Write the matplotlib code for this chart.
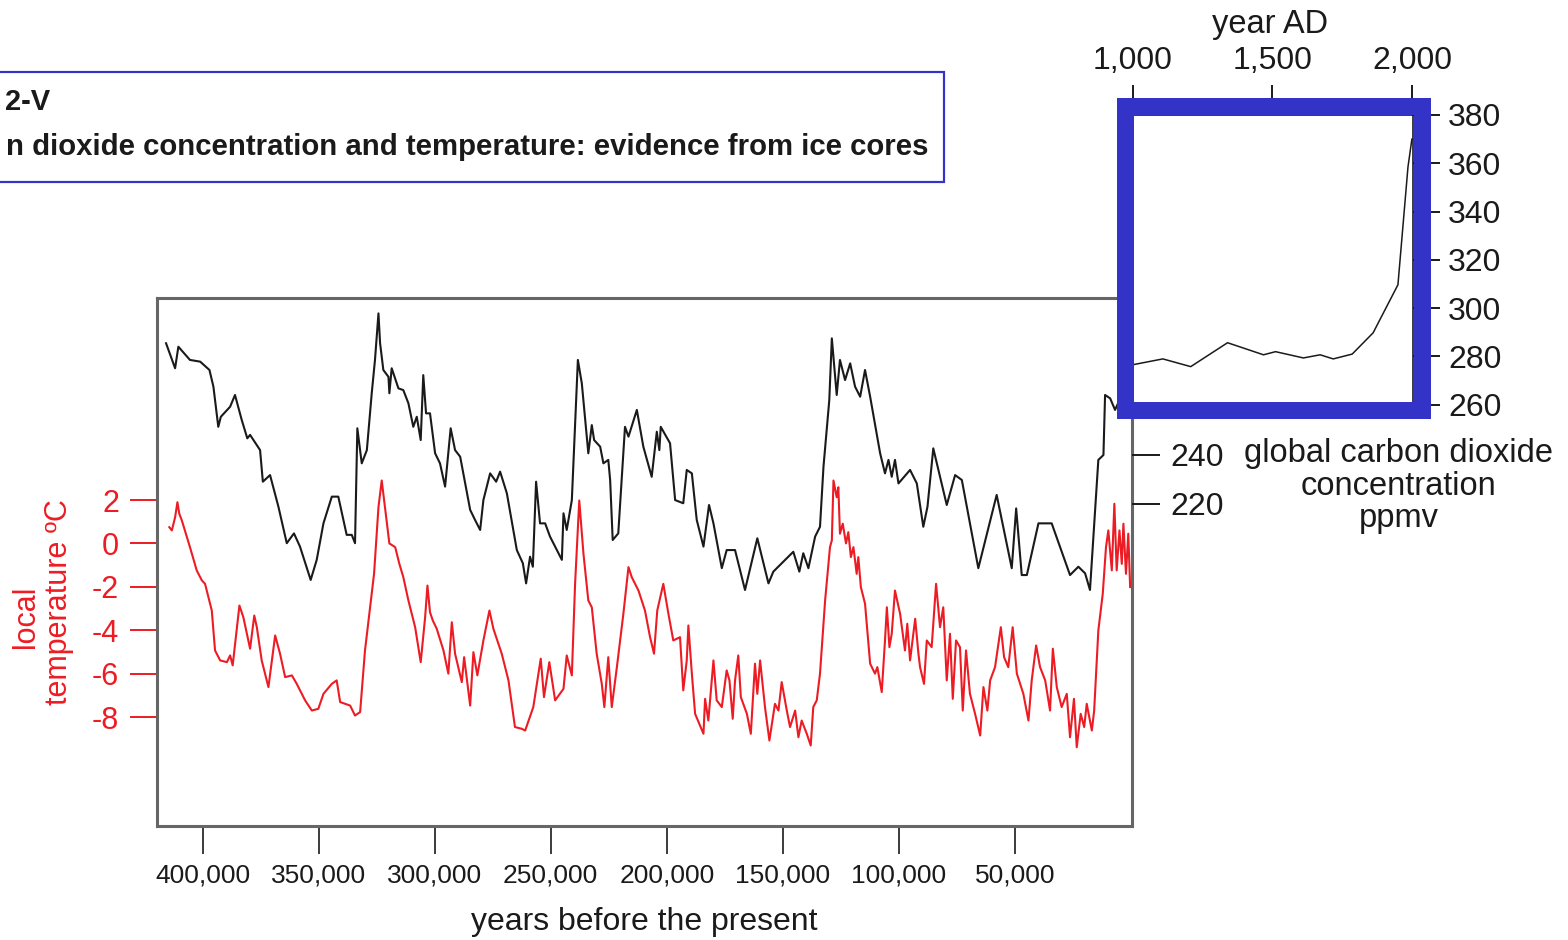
import matplotlib
matplotlib.use('Agg')
import matplotlib.pyplot as plt
from matplotlib.patches import Rectangle

plt.rcParams['font.family'] = ['Liberation Sans', 'DejaVu Sans']

# ---------------- data ----------------
co2_age = [415700, 411800, 410400, 405400, 401000, 397000, 395300, 393200, 392100, 388100,
           386000, 383100, 380700, 379500, 375200, 374000, 370900, 367300, 363700, 360600,
           358000, 353400, 350800, 347900, 344300, 341500, 337900, 335700, 334300, 333300,
           331400, 329200, 327100, 325700, 324200, 323500, 322100, 319900, 319500, 318500,
           315600, 313500, 311300, 309200, 307700, 306000, 304900, 303700, 302000, 299800,
           297700, 295500, 293100, 291200, 289000, 284700, 282600, 280400, 279000, 276100,
           273500, 271800, 268900, 264600, 262000, 260600, 258900, 257700, 256300, 254600,
           252400, 250300, 245200, 244500, 243100, 240900, 238300, 236600, 233800, 232300,
           231300, 228700, 227300, 225200, 224400, 223300, 220900, 218000, 216500, 212900,
           210100, 206500, 204300, 203200, 202600, 198600, 196400, 192900, 191400, 189200,
           187100, 184200, 181800, 179900, 176300, 174200, 170600, 166300, 161000, 156200,
           154100, 145500, 142900, 141200, 139000, 136100, 134000, 132500, 130000, 128900,
           126800, 125400, 123200, 121000, 118900, 116700, 114600, 112400, 108100, 106000,
           104500, 103100, 101700, 100200, 95200, 92300, 89500, 87700, 85200, 79400,
           75800, 72900, 65800, 57900, 51400, 49500, 47100, 44900, 39900, 34200,
           26300, 22700, 19800, 17700, 14100, 11900, 11200, 9000, 6900, 5000, 1300]
co2_ppmv = [285.4, 275.2, 284.0, 278.6, 277.9, 274.5, 267.7, 251.3, 255.4, 259.5,
            264.3, 254.1, 246.6, 248.0, 241.8, 228.9, 231.6, 218.7, 203.8, 207.8,
            202.4, 188.8, 197.0, 211.9, 222.8, 222.8, 207.2, 207.2, 203.8, 250.7,
            236.4, 241.8, 265.0, 278.6, 297.6, 285.4, 274.5, 271.7, 265.0, 275.2,
            267.0, 266.3, 260.9, 251.3, 255.4, 245.9, 272.4, 256.8, 256.8, 240.5,
            236.4, 226.9, 250.7, 241.8, 239.1, 217.4, 213.3, 209.2, 221.4, 232.3,
            228.9, 233.0, 224.2, 201.0, 195.6, 187.4, 198.3, 194.2, 228.9, 211.9,
            211.9, 206.5, 197.0, 216.0, 209.2, 221.4, 278.6, 269.0, 240.5, 252.0,
            245.9, 243.2, 236.4, 237.8, 229.6, 205.1, 207.8, 251.3, 247.3, 258.2,
            243.2, 230.9, 249.3, 241.8, 251.3, 244.6, 221.4, 220.1, 233.7, 232.3,
            213.3, 202.4, 219.4, 211.9, 193.6, 201.0, 201.0, 184.7, 205.8, 187.4,
            192.2, 200.3, 192.2, 199.7, 193.6, 206.5, 210.5, 235.0, 262.2, 287.4,
            264.3, 278.6, 270.4, 277.2, 267.7, 263.6, 274.5, 263.6, 240.5, 232.3,
            237.8, 230.9, 237.8, 228.2, 233.7, 228.2, 210.5, 218.7, 242.5, 219.4,
            231.6, 229.6, 193.6, 223.5, 193.6, 218.0, 190.8, 190.8, 211.9, 211.9,
            190.8, 194.2, 191.5, 184.7, 237.8, 239.8, 264.3, 262.9, 258.2, 262.2, 264.3]

temp_age = [414300, 413200, 411800, 410800, 410000, 408900, 405400, 402500, 400300, 398900,
            396000, 394600, 392400, 389500, 388100, 387000, 384100, 382400, 379500, 377700,
            376600, 374500, 371600, 368700, 366600, 364400, 361500, 359400, 355800, 352900,
            350100, 347900, 344300, 342200, 340700, 336400, 334300, 332100, 330000, 327800,
            326100, 324200, 322800, 321400, 319500, 317000, 315200, 313500, 311300, 308400,
            306000, 304100, 303100, 302000, 300800, 299100, 296200, 294100, 292600, 291200,
            288300, 287300, 284700, 283300, 281600, 279000, 276400, 274700, 271100, 268200,
            265400, 262500, 261000, 257500, 254300, 252900, 250600, 248100, 244500, 243100,
            240900, 239500, 237700, 235900, 233800, 232300, 230200, 228000, 226900, 225200,
            223700, 221500, 218700, 216500, 215100, 212200, 209400, 207200, 205500, 204100,
            201500, 199300, 197200,
            194300, 192900, 191400, 190700, 189200, 187800, 184200, 183500, 182100, 179900,
            178500, 176300, 174200, 173000, 171600, 170600, 169200, 168100, 165500, 163800,
            162000, 161000, 159800, 157700, 155800, 153400, 151900, 150500, 148300, 146900,
            144700, 143300, 141900, 139700, 138000, 136900, 135400, 134000, 131800,
            129700, 128900, 128200, 126800, 126100, 125400, 124200, 122800, 121800, 120700,
            119600, 118200, 117500, 116400, 114600, 112400, 110300, 109300, 107400, 106000,
            105200, 104100, 103100, 101700, 99500, 97400, 96400, 95200, 93000, 91600,
            90900, 89200, 88000, 85900, 84000, 82300, 80900, 79400, 78000, 76800,
            75400, 73700, 72500, 71100, 69400, 67200, 65000, 63600, 61900, 60700,
            58600, 56100, 54700, 52900, 51000, 49200, 46400, 44200, 42800, 40900,
            39200, 37000, 34900, 33700, 32000, 29900, 27700, 26300, 24600, 23400,
            21700, 20200, 19100, 16900, 15900, 14100, 12200, 10800, 9800, 8300,
            7200, 6200, 5000, 4000, 3300, 2200, 1200, 400]
temp_c = [0.75, 0.60, 1.21, 1.90, 1.37, 1.06, -0.17, -1.24, -1.70, -1.86,
          -3.09, -4.93, -5.39, -5.47, -5.16, -5.62, -2.86, -3.40, -4.85, -3.32,
          -3.86, -5.39, -6.62, -4.24, -5.08, -6.16, -6.08, -6.47, -7.23, -7.70,
          -7.62, -6.93, -6.47, -6.31, -7.31, -7.47, -7.93, -7.77, -4.93, -2.94,
          -1.40, 1.67, 2.90, 1.67, 0.00, -0.17, -0.94, -1.55, -2.63, -3.86,
          -5.47, -3.40, -1.94, -3.17, -3.55, -3.93, -4.93, -6.00, -3.63, -5.08,
          -6.39, -5.24, -7.47, -5.01, -6.08, -4.47, -3.09, -3.93, -5.08, -6.31,
          -8.46, -8.54, -8.62, -7.54, -5.31, -7.08, -5.47, -7.23, -6.70, -5.16,
          -6.08, -1.86, 1.98, -0.47, -2.63, -2.94, -5.08, -6.47, -7.54, -5.24,
          -7.54, -5.70, -3.24, -1.09, -1.55, -2.17, -3.09, -4.32, -5.08, -3.09,
          -1.86, -3.24, -4.47,
          -4.32, -6.77, -5.39, -3.78, -6.00, -7.85, -8.77, -7.16, -8.16, -5.39,
          -7.23, -7.54, -5.85, -6.31, -8.08, -6.31, -5.16, -7.08, -7.85, -8.77,
          -5.54, -6.93, -5.39, -7.54, -9.08, -7.39, -7.70, -6.39, -7.70, -8.46,
          -7.70, -8.93, -8.16, -8.77, -9.31, -7.54, -7.23, -6.00, -2.63,
          -0.17, 0.14, 2.90, 2.13, 2.59, 0.45, 0.91, 0.00, 0.52, -0.63,
          -0.17, -1.40, -0.63, -2.01, -2.78, -5.54, -6.00, -5.70, -6.85, -4.47,
          -2.94, -4.78, -4.16, -2.17, -3.24, -4.93, -3.70, -5.39, -3.47, -5.08,
          -5.70, -6.47, -4.47, -4.78, -1.86, -3.86, -2.94, -6.31, -4.16, -7.16,
          -4.47, -4.78, -7.70, -4.93, -6.93, -7.85, -8.85, -6.62, -7.70, -6.31,
          -5.70, -3.86, -5.24, -5.70, -3.86, -6.00, -6.93, -8.16, -6.31, -4.70,
          -5.70, -6.31, -7.70, -4.85, -6.62, -7.54, -6.93, -8.93, -7.16, -9.39,
          -7.85, -8.46, -7.39, -8.62, -7.70, -4.01, -2.32, -0.17, 0.60, -1.24,
          1.83, -1.24, 0.60, -0.94, 0.91, -1.40, 0.45, -2.01]

ad_year = [1000, 1107, 1207, 1339, 1468, 1511, 1611, 1671, 1718, 1786, 1861, 1950, 1986, 2000]
ad_ppmv = [276.6, 279.0, 275.8, 285.7, 280.7, 282.0, 279.4, 280.7, 279.0, 281.0, 289.8, 309.7, 358.5, 370.0]

age_ticks = [400000, 350000, 300000, 250000, 200000, 150000, 100000, 50000]
age_labels = ['400,000', '350,000', '300,000', '250,000', '200,000', '150,000', '100,000', '50,000']
temp_ticks = [2, 0, -2, -4, -6, -8]
co2_ticks = [220, 240]
ad_ticks = [1000, 1500, 2000]
ad_labels = ['1,000', '1,500', '2,000']
inset_ticks = [260, 280, 300, 320, 340, 360, 380]

# ---------------- layout helpers ----------------
W, H = 1568, 940
DPI = 100
PT = 72.0 / DPI  # points per pixel


def fx(px):
    return px / W


def fy(py):
    return 1 - py / H


RED = '#ED1C24'
BLACK = '#1a1a1a'
BLUE = '#3333C8'
SPINE = '#666666'

fig = plt.figure(figsize=(W / DPI, H / DPI), dpi=DPI)

# ---------------- main axes ----------------
ax = fig.add_axes([fx(157), fy(826), fx(1132) - fx(157), fy(298) - fy(826)])
ax.set_xlim(419600, -400)
ax.set_ylim(-13.02, 11.31)
ax.plot(temp_age, temp_c, color=RED, lw=1.5, zorder=3)
for s in ax.spines.values():
    s.set_color(SPINE)
    s.set_linewidth(2.2)
ax.set_xticks(age_ticks)
ax.set_xticklabels(age_labels, fontsize=19)
ax.tick_params(axis='x', direction='out', length=28 * PT, width=1.2, color=BLACK,
               pad=9 * PT, labelcolor=BLACK)
ax.set_yticks(temp_ticks)
ax.set_yticklabels([str(t) for t in temp_ticks], fontsize=22)
ax.tick_params(axis='y', direction='out', length=27 * PT, width=1.4, color=RED,
               pad=11 * PT, labelcolor=RED)

ax2 = ax.twinx()
ax2.set_ylim(88.37, 303.88)
ax2.plot(co2_age, co2_ppmv, color=BLACK, lw=1.5, zorder=3)
for s in ax2.spines.values():
    s.set_visible(False)
ax2.set_yticks(co2_ticks)
ax2.set_yticklabels([str(t) for t in co2_ticks], fontsize=23)
ax2.tick_params(axis='y', direction='out', length=28 * PT, width=1.4, color=BLACK,
                pad=10 * PT, labelcolor=BLACK)

# ---------------- inset ----------------
axi = fig.add_axes([fx(1133), fy(406), fx(1413) - fx(1133), fy(115) - fy(406)], zorder=5)
axi.set_xlim(1000, 2004)
axi.set_ylim(259.5, 380)
axi.plot(ad_year, ad_ppmv, color=BLACK, lw=1.1)
for s in axi.spines.values():
    s.set_color(BLACK)
    s.set_linewidth(1.2)
axi.xaxis.tick_top()
axi.set_xticks(ad_ticks)
axi.set_xticklabels(ad_labels, fontsize=23)
axi.tick_params(axis='x', direction='out', length=30 * PT, width=1.4, color=BLACK,
                pad=9 * PT, labelcolor=BLACK)
axi.yaxis.tick_right()
axi.set_yticks(inset_ticks)
axi.set_yticklabels([str(t) for t in inset_ticks], fontsize=23)
axi.tick_params(axis='y', direction='out', length=27 * PT, width=1.4, color=BLACK,
                pad=8 * PT, labelcolor=BLACK)

# thick blue frame around inset
frame = Rectangle((fx(1125), fy(410.5)), fx(1421.5) - fx(1125), fy(106.5) - fy(410.5),
                  transform=fig.transFigure, fill=False, edgecolor=BLUE,
                  linewidth=17 * PT, joinstyle='miter', zorder=10)
fig.add_artist(frame)

# ---------------- title box (cut at the left edge, as in the source) ----------------
tbox = Rectangle((fx(-10), fy(182)), fx(944) - fx(-10), fy(72) - fy(182),
                 transform=fig.transFigure, fill=False, edgecolor=BLUE,
                 linewidth=2.2 * PT, zorder=10)
fig.add_artist(tbox)
fig.text(fx(5), fy(110), '2-V', fontsize=21, fontweight='bold', color=BLACK,
         ha='left', va='baseline')
fig.text(fx(928), fy(155),
         'n dioxide concentration and temperature: evidence from ice cores',
         fontsize=21.2, fontweight='bold', color=BLACK, ha='right', va='baseline')

# ---------------- axis labels ----------------
fig.text(fx(644), fy(930), 'years before the present', fontsize=23, color=BLACK,
         ha='center', va='baseline')
fig.text(fx(1270), fy(33), 'year AD', fontsize=23.5, color=BLACK, ha='center', va='baseline')
fig.text(fx(1399), fy(462), 'global carbon dioxide', fontsize=23.5, color=BLACK,
         ha='center', va='baseline')
fig.text(fx(1399), fy(495), 'concentration', fontsize=23.5, color=BLACK,
         ha='center', va='baseline')
fig.text(fx(1399), fy(527), 'ppmv', fontsize=23.5, color=BLACK, ha='center', va='baseline')
fig.text(fx(34), fy(617), 'local', fontsize=22, color=RED, rotation=90,
         rotation_mode='anchor', ha='center', va='baseline')
fig.text(fx(67), fy(602), 'temperature \u00baC', fontsize=22, color=RED, rotation=90,
         rotation_mode='anchor', ha='center', va='baseline')

fig.savefig('out.png', dpi=DPI)
